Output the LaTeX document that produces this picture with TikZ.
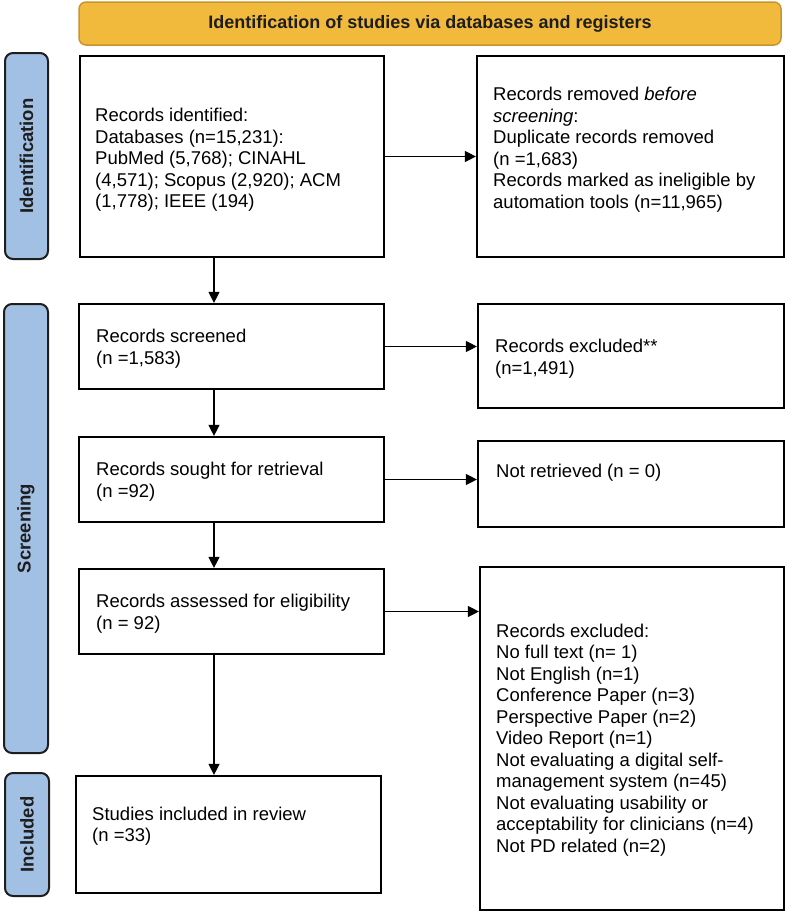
\documentclass[tikz,border=0pt]{standalone}
\usepackage{fontspec}
\setmainfont{Liberation Sans}
\usetikzlibrary{arrows.meta}
\definecolor{gold}{RGB}{242,186,60}
\definecolor{golddraw}{RGB}{200,148,45}
\definecolor{lblue}{RGB}{162,192,228}
\definecolor{dark}{RGB}{30,30,30}
\begin{document}
\begin{tikzpicture}[x=1pt,y=-1pt,
  box/.style={draw=black, line width=2.2pt, fill=white, inner sep=0pt},
  txt/.style={font=\fontsize{18.5}{21.5}\selectfont, align=left, inner sep=0pt, anchor=west, text=black},
  phase/.style={draw=dark, line width=2pt, fill=lblue, rounded corners=8pt, inner sep=0pt},
  phasetxt/.style={font=\fontsize{18.5}{21.5}\selectfont\bfseries, rotate=90, text=dark, inner sep=0pt},
  banner/.style={draw=golddraw, line width=1.5pt, fill=gold, rounded corners=7pt, inner sep=0pt,
    font=\fontsize{18}{21}\selectfont\bfseries, text=dark},
  arr/.style={line width=1.3pt, -{Triangle[length=11pt,width=11pt]}}
]
\useasboundingbox (0,0) rectangle (787,916);

% banner
\node[banner, minimum width=702pt, minimum height=43pt] (ban) at (430,23.5) {Identification of studies via databases and registers};

% phase labels
\node[phase, minimum width=43pt, minimum height=206pt] (p1) at (26.5,156) {};
\node[phasetxt] (p1t) at (p1.center) {Identification};
\node[phase, minimum width=44pt, minimum height=449pt] (p2) at (26,528.5) {};
\node[phasetxt] (p2t) at (p2.center) {Screening};
\node[phase, minimum width=44pt, minimum height=123pt] (p3) at (27,834.5) {};
\node[phasetxt] (p3t) at (p3.center) {Included};

% boxes
\node[box, minimum width=304pt, minimum height=201pt] (ident) at (232,156.5) {};
\node[box, minimum width=307pt, minimum height=201pt] (removed) at (630.5,156.5) {};
\node[box, minimum width=305pt, minimum height=85pt] (screened) at (231.5,346.5) {};
\node[box, minimum width=306pt, minimum height=104pt] (excla) at (631,356) {};
\node[box, minimum width=305pt, minimum height=85pt] (sought) at (231.5,479.5) {};
\node[box, minimum width=306pt, minimum height=86pt] (notret) at (631,484) {};
\node[box, minimum width=305pt, minimum height=85pt] (assessed) at (231.5,611.5) {};
\node[box, minimum width=304pt, minimum height=343pt] (exclb) at (632,738.5) {};
\node[box, minimum width=305pt, minimum height=117pt] (included) at (228.5,834.5) {};

% texts
\node[txt] (identt) at (95,160) {Records identified:\\Databases (n=15,231):\\PubMed (5,768); CINAHL\\(4,571); Scopus (2,920); ACM\\(1,778); IEEE (194)};
\node[txt] (removedt) at (493,149.5) {Records removed \textit{before}\\\textit{screening}:\\Duplicate records removed\\(n =1,683)\\Records marked as ineligible by\\automation tools (n=11,965)};
\node[txt] (screenedt) at (96,348.5) {Records screened\\(n =1,583)};
\node[txt] (exclat) at (495,358.5) {Records excluded**\\(n=1,491)};
\node[txt] (soughtt) at (96,481.5) {Records sought for retrieval\\(n =92)};
\node[txt] (notrett) at (496,473) {Not retrieved (n = 0)};
\node[txt] (assessedt) at (96,613.5) {Records assessed for eligibility\\(n = 92)};
\node[txt] (exclbt) at (496,740) {Records excluded:\\No full text (n= 1)\\Not English (n=1)\\Conference Paper (n=3)\\Perspective Paper (n=2)\\Video Report (n=1)\\Not evaluating a digital self-\\management system (n=45)\\Not evaluating usability or\\acceptability for clinicians (n=4)\\Not PD related (n=2)};
\node[txt] (includedt) at (92,826) {Studies included in review\\(n =33)};

% connectors
\coordinate (colx) at (214,0);
\draw[arr] (ident.east) -- (ident.east -| removed.west);
\draw[arr] (colx |- ident.south) -- (colx |- screened.north);
\draw[arr] (screened.east) -- (screened.east -| excla.west);
\draw[arr] (colx |- screened.south) -- (colx |- sought.north);
\draw[arr] (sought.east) -- (sought.east -| notret.west);
\draw[arr] (colx |- sought.south) -- (colx |- assessed.north);
\draw[arr] (assessed.east) -- (assessed.east -| exclb.west);
\draw[arr] (colx |- assessed.south) -- (colx |- included.north);
\end{tikzpicture}
\end{document}
